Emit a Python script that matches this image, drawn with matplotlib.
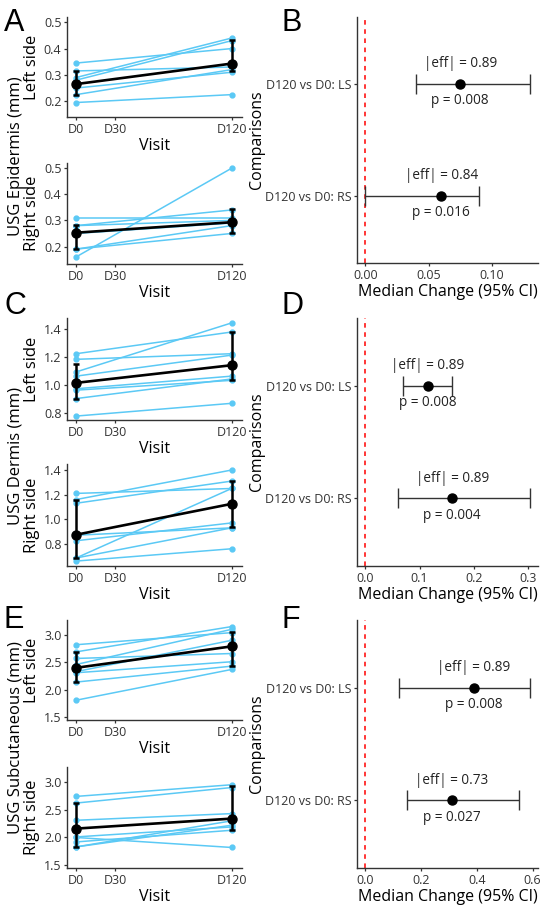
import matplotlib
matplotlib.use("Agg")
import matplotlib.pyplot as plt
import numpy as np

plt.rcParams['font.family'] = ['Open Sans', 'DejaVu Sans']

# ---------------- data ----------------
visits = [0, 120]
visit_ticks = [0, 30, 120]
visit_labels = ["D0", "D30", "D120"]

# Panel A : USG Epidermis
A_L_D0 = [0.345, 0.315, 0.29, 0.28, 0.25, 0.225, 0.195]
A_L_D120 = [0.40, 0.33, 0.44, 0.43, 0.31, 0.32, 0.225]
A_L_mid = [0.265, 0.343]
A_L_lo = [0.225, 0.314]
A_L_hi = [0.315, 0.434]

A_R_D0 = [0.16, 0.31, 0.28, 0.28, 0.19, 0.19, 0.25]
A_R_D120 = [0.50, 0.31, 0.34, 0.30, 0.28, 0.25, 0.29]
A_R_mid = [0.253, 0.293]
A_R_lo = [0.191, 0.253]
A_R_hi = [0.282, 0.342]

# Panel C : USG Dermis
C_L_D0 = [1.22, 1.18, 1.09, 1.06, 0.97, 0.96, 0.90, 0.775]
C_L_D120 = [1.375, 1.22, 1.44, 1.21, 1.06, 1.03, 1.04, 0.866]
C_L_mid = [1.012, 1.138]
C_L_lo = [0.90, 1.03]
C_L_hi = [1.15, 1.375]

C_R_D0 = [1.21, 1.16, 1.13, 0.87, 0.825, 0.685, 0.685, 0.66]
C_R_D120 = [1.25, 1.40, 1.31, 0.93, 0.97, 1.25, 0.93, 0.76]
C_R_mid = [0.874, 1.125]
C_R_lo = [0.685, 0.935]
C_R_hi = [1.155, 1.31]

# Panel E : USG Subcutaneous
E_L_D0 = [2.82, 2.69, 2.57, 2.46, 2.31, 2.33, 2.14, 1.81]
E_L_D120 = [3.04, 3.15, 2.66, 3.10, 2.51, 2.90, 2.43, 2.37]
E_L_mid = [2.40, 2.79]
E_L_lo = [2.14, 2.43]
E_L_hi = [2.69, 3.05]

E_R_D0 = [2.74, 2.62, 2.31, 2.01, 1.92, 1.83, 2.00, 1.83]
E_R_D120 = [2.95, 2.90, 2.43, 2.19, 2.13, 2.22, 1.82, 2.30]
E_R_mid = [2.16, 2.34]
E_R_lo = [1.83, 2.13]
E_R_hi = [2.62, 2.93]

# Right panels: median change (95% CI)
comparisons = ["D120 vs D0: RS", "D120 vs D0: LS"]
B_est = [0.06, 0.075]
B_lo = [0.00, 0.04]
B_hi = [0.09, 0.13]
B_eff = ["0.84", "0.89"]
B_p = ["0.016", "0.008"]

D_est = [0.16, 0.115]
D_lo = [0.06, 0.07]
D_hi = [0.303, 0.16]
D_eff = ["0.89", "0.89"]
D_p = ["0.004", "0.008"]

F_est = [0.31, 0.39]
F_lo = [0.15, 0.12]
F_hi = [0.55, 0.59]
F_eff = ["0.73", "0.89"]
F_p = ["0.027", "0.008"]

# ---------------- style ----------------
W, H = 550, 910
BLUE = '#5BC9F5'
AXC = '#333333'
TICKC = '#333333'
TICK_FS = 9
TITLE_FS = 11.5
LETTER_FS = 22

fig = plt.figure(figsize=(W / 100, H / 100), dpi=100)


def ax_px(x0, y0, x1, y1):
    return fig.add_axes([x0 / W, 1 - y1 / H, (x1 - x0) / W, (y1 - y0) / H])


def style(ax):
    for s in ['top', 'right']:
        ax.spines[s].set_visible(False)
    for s in ['left', 'bottom']:
        ax.spines[s].set_color(AXC)
        ax.spines[s].set_linewidth(1.0)
    ax.tick_params(axis='both', colors=AXC, labelcolor=TICKC, labelsize=TICK_FS,
                   length=2.5, width=0.9, pad=1.5)
    ax.set_facecolor('none')


def left_panel(box, d0, d120, mid, lo, hi, ylim, yticks, ylab):
    ax = ax_px(*box)
    style(ax)
    for a, b in zip(d0, d120):
        ax.plot(visits, [a, b], color=BLUE, lw=1.1, zorder=2,
                marker='o', ms=3.5, mec=BLUE, mfc=BLUE)
    mid = np.array(mid)
    yerr = [mid - np.array(lo), np.array(hi) - mid]
    ax.errorbar(visits, mid, yerr=yerr, fmt='none', ecolor='black',
                elinewidth=1.8, capsize=2.0, capthick=1.8, zorder=3)
    ax.plot(visits, mid, color='black', lw=1.9, marker='o', ms=6.5, zorder=4)
    ax.set_xlim(-7, 128)
    ax.set_xticks(visit_ticks)
    ax.set_xticklabels(visit_labels)
    ax.set_ylim(*ylim)
    ax.set_yticks(yticks)
    ax.set_yticklabels([f"{t:.1f}" for t in yticks])
    ax.set_xlabel("Visit", fontsize=TITLE_FS, labelpad=2)
    ax.set_ylabel(ylab, fontsize=12, labelpad=3)
    return ax


def right_panel(box, est, lo, hi, eff, pv, xlim, xticks, fmt):
    ax = ax_px(*box)
    style(ax)
    ypos = [1, 2]
    ax.axvline(0, color='#FF0000', lw=1.1, ls=(0, (3, 3)), zorder=1)
    est = np.array(est)
    xerr = [est - np.array(lo), np.array(hi) - est]
    ax.errorbar(est, ypos, xerr=xerr, fmt='none', ecolor='#333333',
                elinewidth=1.0, capsize=7.5, capthick=1.0, zorder=2)
    ax.plot(est, ypos, 'o', color='black', ms=6.5, zorder=3)
    for x, y, e, p in zip(est, ypos, eff, pv):
        ax.text(x, y + 0.18, f"|eff| = {e}", ha='center', va='center',
                fontsize=9.8, color='#222222')
        ax.text(x, y - 0.15, f"p = {p}", ha='center', va='center',
                fontsize=9.8, color='#222222')
    ax.set_ylim(0.4, 2.6)
    ax.set_yticks(ypos)
    ax.set_yticklabels(comparisons)
    ax.set_xlim(*xlim)
    ax.set_xticks(xticks)
    ax.set_xticklabels([fmt.format(t) for t in xticks])
    ax.set_xlabel("Median Change (95% CI)", fontsize=TITLE_FS, labelpad=2)
    return ax


LX0, LX1 = 67, 242
RX0, RX1 = 357, 538

# Panel A
left_panel((LX0, 17, LX1, 117), A_L_D0, A_L_D120, A_L_mid, A_L_lo, A_L_hi,
           (0.14, 0.52), [0.2, 0.3, 0.4, 0.5], "Left side")
left_panel((LX0, 163, LX1, 264), A_R_D0, A_R_D120, A_R_mid, A_R_lo, A_R_hi,
           (0.133, 0.52), [0.2, 0.3, 0.4, 0.5], "Right side")
# Panel C
left_panel((LX0, 318, LX1, 420), C_L_D0, C_L_D120, C_L_mid, C_L_lo, C_L_hi,
           (0.747, 1.475), [0.8, 1.0, 1.2, 1.4], "Left side")
left_panel((LX0, 464, LX1, 566), C_R_D0, C_R_D120, C_R_mid, C_R_lo, C_R_hi,
           (0.62, 1.449), [0.8, 1.0, 1.2, 1.4], "Right side")
# Panel E
left_panel((LX0, 620, LX1, 720), E_L_D0, E_L_D120, E_L_mid, E_L_lo, E_L_hi,
           (1.45, 3.27), [1.5, 2.0, 2.5, 3.0], "Left side")
left_panel((LX0, 767, LX1, 868), E_R_D0, E_R_D120, E_R_mid, E_R_lo, E_R_hi,
           (1.45, 3.27), [1.5, 2.0, 2.5, 3.0], "Right side")

# Right panels
axB = right_panel((RX0, 17, RX1, 263), B_est, B_lo, B_hi, B_eff, B_p,
                  (-0.0065, 0.1365), [0.0, 0.05, 0.10], "{:.2f}")
axD = right_panel((RX0, 318, RX1, 566), D_est, D_lo, D_hi, D_eff, D_p,
                  (-0.0152, 0.318), [0.0, 0.1, 0.2, 0.3], "{:.1f}")
axF = right_panel((RX0, 620, RX1, 868), F_est, F_lo, F_hi, F_eff, F_p,
                  (-0.0295, 0.6195), [0.0, 0.2, 0.4, 0.6], "{:.1f}")

# Outer y labels
for txt, yc in [("USG Epidermis (mm)", 156), ("USG Dermis (mm)", 456),
                ("USG Subcutaneous (mm)", 738)]:
    fig.text(16 / W, 1 - yc / H, txt, rotation=90, ha='center', va='center',
             fontsize=12)
for yc in [140, 442, 744]:
    fig.text(257 / W, 1 - yc / H, "Comparisons", rotation=90, ha='center',
             va='center', fontsize=TITLE_FS)

# Panel letters
for L, x, y in [("A", 4, 8), ("B", 282, 8), ("C", 4, 291), ("D", 282, 291),
                ("E", 4, 605), ("F", 282, 605)]:
    fig.text(x / W, 1 - y / H, L, ha='left', va='top', fontsize=LETTER_FS,
             family=['Liberation Sans', 'DejaVu Sans'])

fig.savefig("out.png", dpi=100)
